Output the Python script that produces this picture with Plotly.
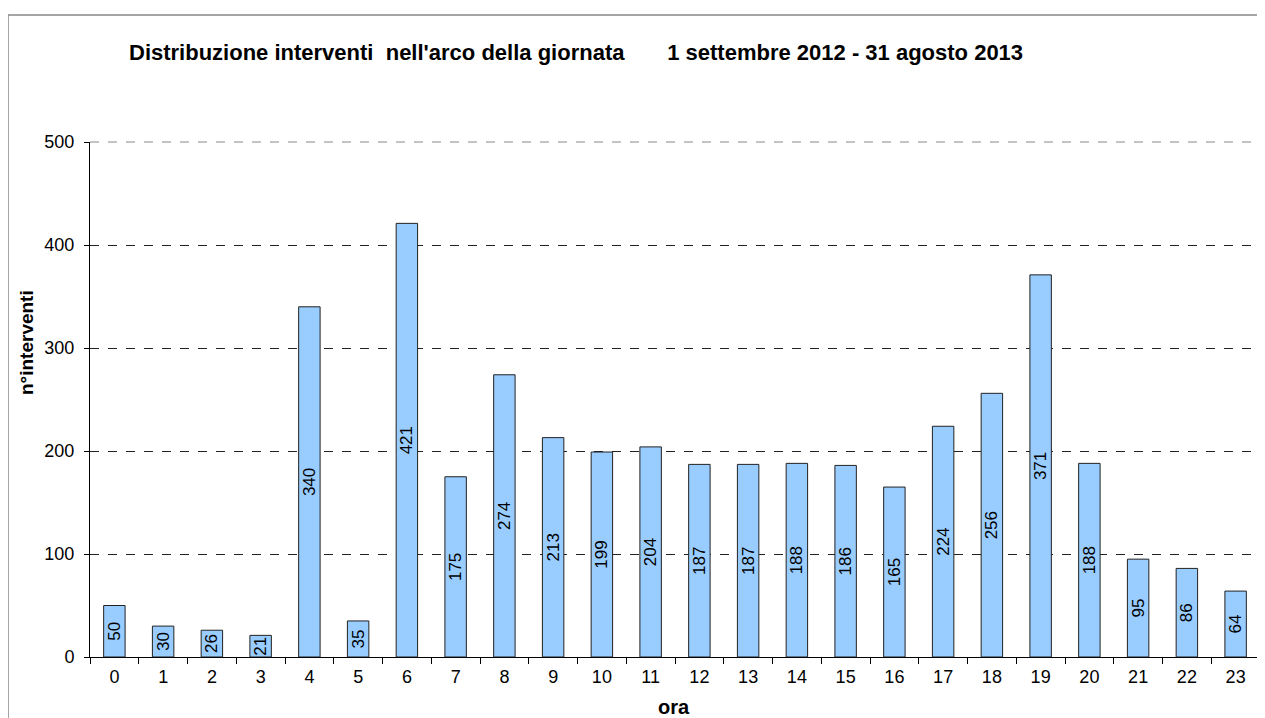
import plotly.graph_objects as go

hours = [str(h) for h in range(24)]
counts = [50, 30, 26, 21, 340, 35, 421, 175, 274, 213, 199, 204, 187, 187, 188, 186,
          165, 224, 256, 371, 188, 95, 86, 64]
y_ticks = [0, 100, 200, 300, 400, 500]

title_text = ("Distribuzione interventi\u00a0\u00a0nell'arco della giornata"
              "\u00a0\u00a0\u00a0\u00a0\u00a0\u00a0\u00a0"
              "1 settembre 2012 - 31 agosto 2013")

FONT = "Liberation Sans, Arial, sans-serif"

# page is offset by the default 8px body margin; plot area in page px: x 90-1260, y 142-657
def px(xp):
    return (xp - 90) / 1170

def py(yp):
    return (657 - yp) / 515

fig = go.Figure()
fig.add_trace(go.Bar(
    x=hours, y=counts,
    marker=dict(color="#99CCFF", line=dict(color="#222222", width=1)),
    text=[str(c) for c in counts],
    textposition="inside",
    insidetextanchor="middle",
    textangle=-90,
    textfont=dict(family=FONT, size=17, color="black"),
    constraintext="none",
    width=0.44,
    hoverinfo="skip",
))

fig.update_layout(
    width=1257, height=710,
    margin=dict(l=82, r=5, t=134, b=61),
    paper_bgcolor="white", plot_bgcolor="white",
    showlegend=False,
    font=dict(family=FONT, size=18, color="black"),
    xaxis=dict(
        type="category",
        range=[-0.5, 23.5],
        tickson="boundaries",
        ticks="outside", ticklen=6, tickcolor="black", tickwidth=1,
        showline=True, linecolor="black", linewidth=1,
        showgrid=False,
        tickfont=dict(size=18),
        ticklabelstandoff=3,
        fixedrange=True,
    ),
    yaxis=dict(
        range=[0, 500],
        tickvals=y_ticks,
        ticks="outside", ticklen=5, tickcolor="black",
        showline=True, linecolor="black", linewidth=1,
        showgrid=True, gridcolor="#222222", gridwidth=1, griddash="dash",
        zeroline=False,
        tickfont=dict(size=18),
        ticklabelstandoff=6,
        fixedrange=True,
    ),
    annotations=[
        dict(text="<b>" + title_text + "</b>", xref="paper", yref="paper",
             x=px(576), y=py(52), xanchor="center", yanchor="middle",
             showarrow=False, font=dict(size=22, family=FONT)),
        dict(text="<b>n°interventi</b>", xref="paper", yref="paper",
             x=px(26), y=py(343), xanchor="center", yanchor="middle",
             textangle=-90, showarrow=False, font=dict(size=19, family=FONT)),
        dict(text="<b>ora</b>", xref="paper", yref="paper",
             x=px(674), y=py(707), xanchor="center", yanchor="middle",
             showarrow=False, font=dict(size=20, family=FONT)),
    ],
    shapes=[
        dict(type="rect", xref="paper", yref="paper",
             x0=px(8), x1=1.05, y0=-0.3, y1=py(15),
             line=dict(color="#888888", width=1.5), layer="below"),
        dict(type="line", xref="paper", yref="paper",
             x0=1, x1=1, y0=0, y1=1,
             line=dict(color="#888888", width=1)),
        dict(type="line", xref="paper", yref="paper",
             x0=0, x1=1, y0=1, y1=1,
             line=dict(color="#888888", width=1, dash="dash")),
    ],
)

fig.write_html("out.html")
